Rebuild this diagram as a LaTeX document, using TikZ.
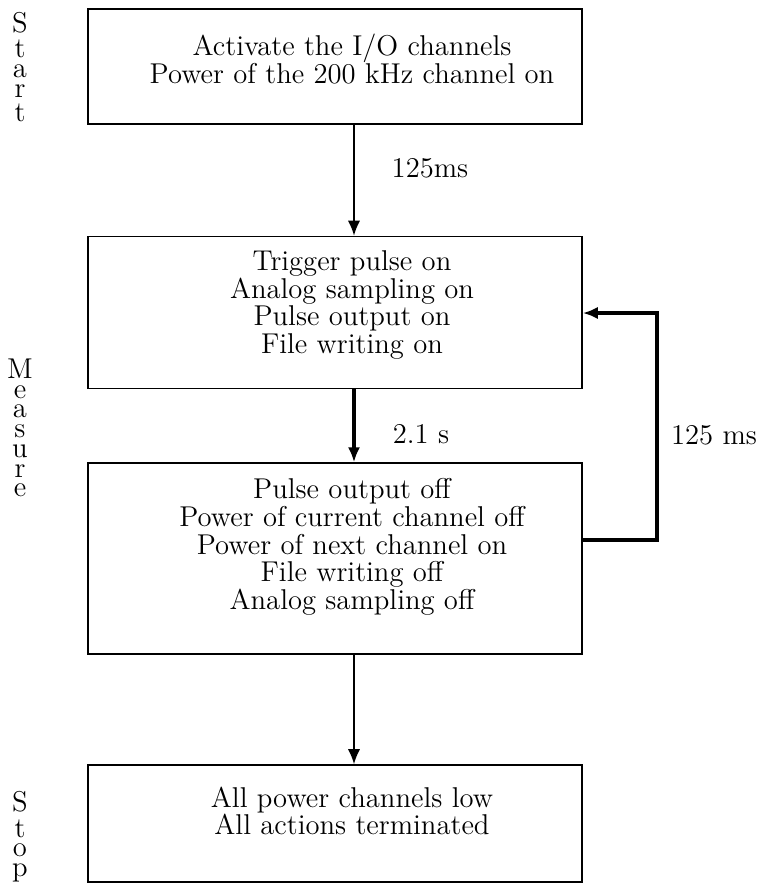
\documentclass[tikz,border=0pt]{standalone}
\usetikzlibrary{arrows.meta}
\begin{document}
\begin{tikzpicture}[x=0.44pt,y=-0.44pt,
  every node/.style={font=\fontsize{12.6}{12.2}\selectfont},
  boxshape/.style={draw,line width=0.7pt,rectangle,inner sep=0pt},
  boxtext/.style={align=center,inner sep=0pt},
  side/.style={inner sep=0pt},
  thinarrow/.style={line width=0.7pt,-{Latex[length=6.6pt,width=5.4pt]}},
  thickarrow/.style={line width=1.7pt,-{Latex[length=6.6pt,width=5.4pt]}},
  lbl/.style={inner sep=0pt}]
\useasboundingbox (0,0) rectangle (765,886);
% boxes
\node[boxshape,minimum width=217.36pt,minimum height=50.6pt] (b1) at (335,66.5) {};
\node[boxshape,minimum width=217.36pt,minimum height=66.9pt] (b2) at (335,312.5) {};
\node[boxshape,minimum width=217.36pt,minimum height=84.0pt] (b3) at (335,558.5) {};
\node[boxshape,minimum width=217.36pt,minimum height=51.5pt] (b4) at (335,823.5) {};
% texts
\node[boxtext] (t1) at (352,59) {Activate the I/O channels\\Power of the 200 kHz channel on};
\node[boxtext] (t2) at (352,305) {Trigger pulse on\\Analog sampling on\\Pulse output on\\File writing on};
\node[boxtext] (t3) at (352,547) {Pulse output off\\Power of current channel off\\Power of next channel on\\File writing off\\Analog sampling off};
\node[boxtext] (t4) at (352,811) {All power channels low\\All actions terminated};
% side labels
\node[side] (s1) at (20,67) {\shortstack{S\\t\\a\\r\\t}};
\node[side] (s2) at (20,428) {\shortstack{M\\e\\a\\s\\u\\r\\e}};
\node[side] (s3) at (20,837) {\shortstack{S\\t\\o\\p}};
% connectors
\coordinate (ax) at (354,0);
\coordinate (loopx) at (657,0);
\coordinate (ly2) at (0,313);
\coordinate (ly3) at (0,540);
\draw[thinarrow] (b1.south -| ax) -- (b2.north -| ax);
\draw[thickarrow] (b2.south -| ax) -- (b3.north -| ax);
\draw[thickarrow] (b3.east |- ly3) -- (loopx |- ly3) -- (loopx |- ly2) -- (b2.east |- ly2);
\draw[thinarrow] (b3.south -| ax) -- (b4.north -| ax);
% labels
\node[lbl] (l1) at (430,168) {125ms};
\node[lbl] (l2) at (421,434) {2.1 s};
\node[lbl] (l3) at (714,435) {125 ms};
\end{tikzpicture}
\end{document}
